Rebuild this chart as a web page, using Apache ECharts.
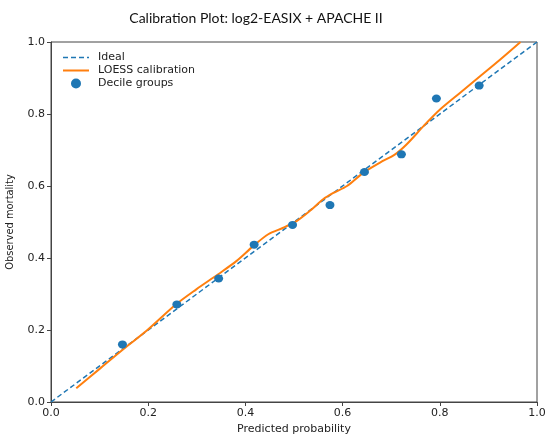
<!DOCTYPE html>
<html lang="en" style="height: 100%">
<head>
  <meta charset="utf-8">
</head>
<body style="height: 100%; margin: 0; background: #ffffff">
  <div id="container" style="width: 550px; height: 437px"></div>

  <script type="text/javascript" src="https://fastly.jsdelivr.net/npm/echarts@6/dist/echarts.min.js"></script>
  <script type="text/javascript">
    // ideal diagonal
    var idealLine = [[0, 0], [1, 1]];

    // loess curve
    var loessX = [0.052, 0.10, 0.15, 0.196, 0.258, 0.299, 0.344, 0.382, 0.416, 0.447, 0.478, 0.506, 0.533, 0.560, 0.580, 0.609, 0.643, 0.677, 0.708, 0.732, 0.767, 0.801, 0.842, 0.884, 0.925, 0.966];
    var loessY = [0.038, 0.092, 0.148, 0.197, 0.272, 0.313, 0.355, 0.392, 0.433, 0.466, 0.484, 0.503, 0.531, 0.563, 0.580, 0.600, 0.637, 0.665, 0.688, 0.716, 0.767, 0.813, 0.859, 0.906, 0.952, 1.0];

    // decile groups
    var decileX = [0.147, 0.259, 0.345, 0.418, 0.497, 0.574, 0.645, 0.721, 0.793, 0.881];
    var decileY = [0.160, 0.271, 0.343, 0.437, 0.492, 0.547, 0.639, 0.688, 0.843, 0.879];

    // legend handles (tiny corner squares keep the 26x10 box so lines stay thin)
    var box = 'M0,0h0.05v0.05h-0.05z M25.95,9.95h0.05v0.05h-0.05z ';
    var dashIcon = 'path://' + box + 'M0,4.25h5v1.5h-5z M8,4.25h5v1.5h-5z M16,4.25h5v1.5h-5z M24,4.25h2v1.5h-2z';
    var solidIcon = 'path://' + box + 'M0,4h26v2h-26z';

    var dom = document.getElementById('container');
    var myChart = echarts.init(dom, null, { renderer: 'canvas' });

    var tickFont = { fontFamily: 'DejaVu Sans', fontSize: 11, color: '#222' };

    var option = {
      backgroundColor: '#ffffff',
      animation: false,
      title: {
        text: 'Calibration Plot: log2-EASIX + APACHE II',
        left: 251,
        textAlign: 'center',
        top: 6,
        textStyle: { fontFamily: 'Lato', fontSize: 14, fontWeight: 'normal', color: '#111' }
      },
      legend: {
        orient: 'vertical',
        left: 58,
        top: 47,
        itemWidth: 26,
        itemHeight: 10,
        itemGap: 2,
        textStyle: { fontFamily: 'DejaVu Sans', fontSize: 11, color: '#222', padding: [0, 0, 0, 4] },
        data: [
          { name: 'Ideal', icon: dashIcon },
          { name: 'LOESS calibration', icon: solidIcon },
          { name: 'Decile groups', icon: 'circle' }
        ]
      },
      grid: {
        left: 51,
        right: 13,
        top: 42,
        bottom: 35,
        outerBoundsMode: 'none',
        show: true,
        borderColor: '#444',
        borderWidth: 1,
        backgroundColor: 'transparent'
      },
      xAxis: {
        type: 'value',
        min: 0,
        max: 1,
        interval: 0.2,
        name: 'Predicted probability',
        nameLocation: 'middle',
        nameGap: 19,
        nameTextStyle: { fontFamily: 'DejaVu Sans', fontSize: 11, color: '#222' },
        axisLine: { show: true, onZero: false, lineStyle: { color: '#444' } },
        axisTick: { show: true, length: 4, lineStyle: { color: '#444' } },
        splitLine: { show: false },
        axisLabel: Object.assign({ margin: 6, formatter: function (v) { return v.toFixed(1); } }, tickFont)
      },
      yAxis: {
        type: 'value',
        min: 0,
        max: 1,
        interval: 0.2,
        name: 'Observed mortality',
        nameLocation: 'middle',
        nameGap: 35,
        nameTextStyle: { fontFamily: 'DejaVu Sans Condensed', fontSize: 11, color: '#222' },
        axisLine: { show: true, onZero: false, lineStyle: { color: '#444' } },
        axisTick: { show: true, length: 4, lineStyle: { color: '#444' } },
        splitLine: { show: false },
        axisLabel: Object.assign({ margin: 6, formatter: function (v) { return v.toFixed(1); } }, tickFont)
      },
      series: [
        {
          name: 'Ideal',
          type: 'line',
          data: idealLine,
          showSymbol: false,
          symbol: 'none',
          clip: true,
          lineStyle: { color: '#1f77b4', width: 1.5, type: [5, 3] },
          itemStyle: { color: '#1f77b4' },
          z: 2
        },
        {
          name: 'LOESS calibration',
          type: 'line',
          data: loessX.map(function (x, i) { return [x, loessY[i]]; }),
          smooth: 0.3,
          showSymbol: false,
          symbol: 'none',
          clip: true,
          lineStyle: { color: '#ff7f0e', width: 2 },
          itemStyle: { color: '#ff7f0e' },
          z: 3
        },
        {
          name: 'Decile groups',
          type: 'scatter',
          data: decileX.map(function (x, i) { return [x, decileY[i]]; }),
          symbolSize: [9, 8],
          itemStyle: { color: '#1f77b4', opacity: 1 },
          z: 4
        }
      ]
    };

    myChart.setOption(option);
    window.addEventListener('resize', myChart.resize);
  </script>
</body>
</html>
